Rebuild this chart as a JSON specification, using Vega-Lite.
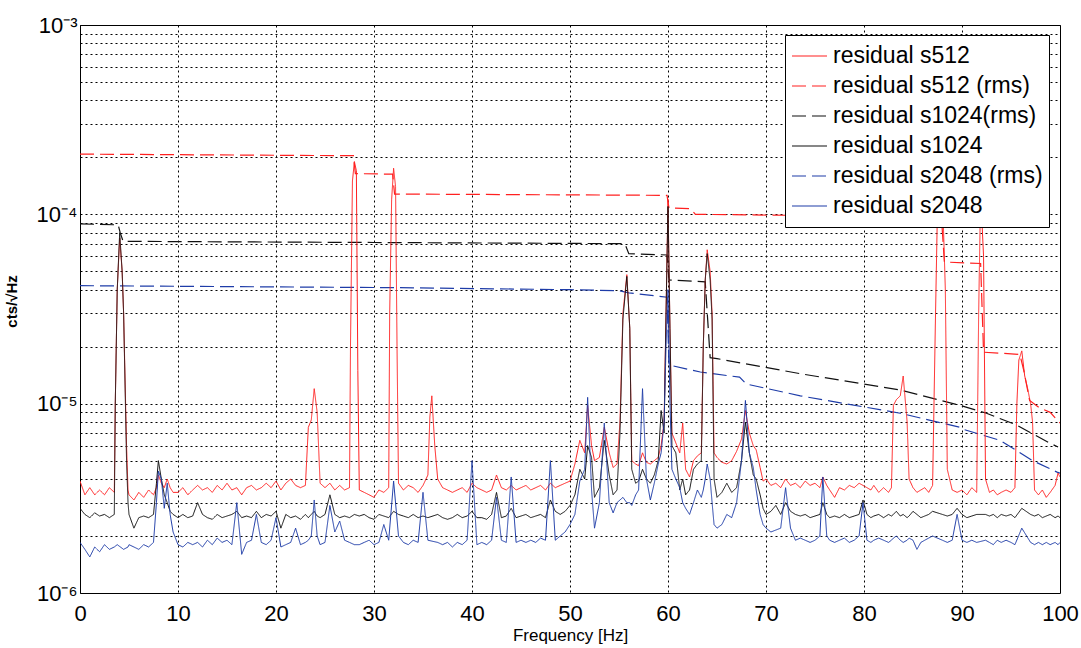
{
"$schema":"https://vega.github.io/schema/vega-lite/v6.json",
"autosize":{"type":"none"},
"width":980,"height":568,
"padding":{"left":80,"top":25,"right":21,"bottom":55},
"background":"white",
"config":{"view":{"stroke":"#000","strokeWidth":1},"font":"Liberation Sans"},
"datasets":{
"spec":[
{"f":0,"residual s512":3.9e-6,"residual s1024":2.8e-6,"residual s2048":1.85e-6},
{"f":0.5,"residual s512":3.3e-6,"residual s1024":2.6e-6,"residual s2048":1.7e-6},
{"f":1,"residual s512":3.6e-6,"residual s1024":2.5e-6,"residual s2048":1.55e-6},
{"f":1.5,"residual s512":3.3e-6,"residual s1024":2.65e-6,"residual s2048":1.75e-6},
{"f":2,"residual s512":3.5e-6,"residual s1024":2.55e-6,"residual s2048":1.65e-6},
{"f":2.5,"residual s512":3.3e-6,"residual s1024":2.6e-6,"residual s2048":1.8e-6},
{"f":3,"residual s512":3.6e-6,"residual s1024":2.5e-6,"residual s2048":1.7e-6},
{"f":3.5,"residual s512":3.4e-6,"residual s1024":2.6e-6,"residual s2048":1.75e-6},
{"f":3.6,"residual s512":1.0e-5,"residual s1024":1.0e-5},
{"f":3.8,"residual s512":4.0e-5,"residual s1024":4.0e-5,"residual s2048":1.8e-6},
{"f":4.05,"residual s512":7.5e-5,"residual s1024":8.0e-5},
{"f":4.3,"residual s512":5.0e-5,"residual s1024":5.0e-5},
{"f":4.45,"residual s512":3.0e-5,"residual s1024":3.0e-5,"residual s2048":1.7e-6},
{"f":4.75,"residual s512":6.0e-6,"residual s1024":5.0e-6},
{"f":4.9,"residual s512":3.5e-6,"residual s1024":3.0e-6,"residual s2048":1.75e-6},
{"f":5,"residual s512":3.3e-6,"residual s1024":2.6e-6,"residual s2048":1.8e-6},
{"f":5.5,"residual s512":3.1e-6,"residual s1024":2.2e-6,"residual s2048":1.75e-6},
{"f":6,"residual s512":3.4e-6,"residual s1024":2.5e-6,"residual s2048":1.7e-6},
{"f":6.5,"residual s512":3.2e-6,"residual s1024":2.55e-6,"residual s2048":1.8e-6},
{"f":7,"residual s512":3.5e-6,"residual s1024":2.5e-6,"residual s2048":1.75e-6},
{"f":7.5,"residual s512":3.3e-6,"residual s1024":2.6e-6,"residual s2048":1.85e-6},
{"f":7.8,"residual s512":3.6e-6,"residual s1024":3.8e-6,"residual s2048":3.0e-6},
{"f":8,"residual s512":4.2e-6,"residual s1024":5.0e-6,"residual s2048":4.4e-6},
{"f":8.3,"residual s512":3.8e-6,"residual s1024":4.0e-6,"residual s2048":4.0e-6},
{"f":8.6,"residual s512":3.6e-6,"residual s1024":3.3e-6,"residual s2048":2.8e-6},
{"f":8.9,"residual s512":4.0e-6,"residual s1024":3.0e-6,"residual s2048":3.8e-6},
{"f":9.2,"residual s512":3.6e-6,"residual s1024":2.7e-6,"residual s2048":2.6e-6},
{"f":9.5,"residual s512":3.4e-6,"residual s1024":2.6e-6,"residual s2048":2.1e-6},
{"f":10,"residual s512":3.4e-6,"residual s1024":2.5e-6,"residual s2048":1.8e-6},
{"f":10.5,"residual s512":3.6e-6,"residual s1024":2.6e-6,"residual s2048":1.75e-6},
{"f":11,"residual s512":3.3e-6,"residual s1024":2.5e-6,"residual s2048":1.85e-6},
{"f":11.5,"residual s512":3.5e-6,"residual s1024":2.55e-6,"residual s2048":1.8e-6},
{"f":12,"residual s512":3.7e-6,"residual s1024":3.0e-6,"residual s2048":1.85e-6},
{"f":12.5,"residual s512":3.5e-6,"residual s1024":2.6e-6,"residual s2048":1.75e-6},
{"f":13,"residual s512":3.6e-6,"residual s1024":2.5e-6,"residual s2048":1.9e-6},
{"f":13.5,"residual s512":3.4e-6,"residual s1024":2.45e-6,"residual s2048":1.8e-6},
{"f":14,"residual s512":3.7e-6,"residual s1024":2.6e-6,"residual s2048":1.95e-6},
{"f":14.5,"residual s512":3.5e-6,"residual s1024":2.5e-6,"residual s2048":1.85e-6},
{"f":15,"residual s512":3.8e-6,"residual s1024":2.55e-6,"residual s2048":1.9e-6},
{"f":15.5,"residual s512":3.5e-6,"residual s1024":2.6e-6,"residual s2048":1.8e-6},
{"f":16,"residual s512":3.6e-6,"residual s1024":2.7e-6,"residual s2048":3.0e-6},
{"f":16.5,"residual s512":3.3e-6,"residual s1024":2.5e-6,"residual s2048":1.6e-6},
{"f":17,"residual s512":3.6e-6,"residual s1024":2.55e-6,"residual s2048":1.85e-6},
{"f":17.5,"residual s512":3.7e-6,"residual s1024":2.5e-6,"residual s2048":1.9e-6},
{"f":18,"residual s512":3.5e-6,"residual s1024":2.7e-6,"residual s2048":2.6e-6},
{"f":18.5,"residual s512":3.6e-6,"residual s1024":2.5e-6,"residual s2048":1.85e-6},
{"f":19,"residual s512":3.8e-6,"residual s1024":2.6e-6,"residual s2048":1.8e-6},
{"f":19.5,"residual s512":3.6e-6,"residual s1024":2.55e-6,"residual s2048":1.9e-6},
{"f":20,"residual s512":3.9e-6,"residual s1024":2.7e-6,"residual s2048":2.5e-6},
{"f":20.5,"residual s512":3.5e-6,"residual s1024":2.2e-6,"residual s2048":1.75e-6},
{"f":21,"residual s512":3.8e-6,"residual s1024":2.6e-6,"residual s2048":1.8e-6},
{"f":21.5,"residual s512":4.0e-6,"residual s1024":2.5e-6,"residual s2048":1.85e-6},
{"f":22,"residual s512":3.7e-6,"residual s1024":2.55e-6,"residual s2048":2.2e-6},
{"f":22.5,"residual s512":3.6e-6,"residual s1024":2.45e-6,"residual s2048":1.8e-6},
{"f":23,"residual s512":3.7e-6,"residual s1024":2.6e-6,"residual s2048":1.85e-6},
{"f":23.3,"residual s512":7.5e-6,"residual s1024":2.5e-6,"residual s2048":1.9e-6},
{"f":23.6,"residual s512":8.2e-6,"residual s1024":2.6e-6,"residual s2048":2.0e-6},
{"f":23.9,"residual s512":1.2e-5,"residual s1024":2.7e-6,"residual s2048":3.1e-6},
{"f":24.2,"residual s512":9.0e-6,"residual s1024":2.55e-6,"residual s2048":2.0e-6},
{"f":24.5,"residual s512":3.8e-6,"residual s1024":2.5e-6,"residual s2048":1.8e-6},
{"f":25,"residual s512":3.6e-6,"residual s1024":2.6e-6,"residual s2048":1.85e-6},
{"f":25.5,"residual s512":3.8e-6,"residual s1024":3.3e-6,"residual s2048":2.9e-6},
{"f":26,"residual s512":3.5e-6,"residual s1024":2.6e-6,"residual s2048":2.1e-6},
{"f":26.5,"residual s512":3.7e-6,"residual s1024":2.5e-6,"residual s2048":2.4e-6},
{"f":27,"residual s512":3.5e-6,"residual s1024":2.55e-6,"residual s2048":1.9e-6},
{"f":27.5,"residual s512":3.6e-6,"residual s1024":2.5e-6,"residual s2048":1.85e-6},
{"f":27.6,"residual s512":2.0e-5},
{"f":27.8,"residual s512":1.5e-4},
{"f":28,"residual s512":1.9e-4,"residual s1024":2.6e-6,"residual s2048":1.8e-6},
{"f":28.2,"residual s512":1.7e-4},
{"f":28.35,"residual s512":1.5e-5},
{"f":28.5,"residual s512":3.5e-6,"residual s1024":2.55e-6,"residual s2048":1.8e-6},
{"f":29,"residual s512":3.4e-6,"residual s1024":2.6e-6,"residual s2048":1.85e-6},
{"f":29.5,"residual s512":3.3e-6,"residual s1024":2.5e-6,"residual s2048":1.9e-6},
{"f":30,"residual s512":3.2e-6,"residual s1024":2.45e-6,"residual s2048":1.8e-6},
{"f":30.5,"residual s512":3.5e-6,"residual s1024":2.6e-6,"residual s2048":1.85e-6},
{"f":31,"residual s512":3.4e-6,"residual s1024":2.55e-6,"residual s2048":2.3e-6},
{"f":31.5,"residual s512":3.6e-6,"residual s1024":2.5e-6,"residual s2048":1.9e-6},
{"f":31.6,"residual s512":3.0e-5},
{"f":31.8,"residual s512":1.2e-4},
{"f":32,"residual s512":1.75e-4,"residual s1024":2.7e-6,"residual s2048":3.9e-6},
{"f":32.2,"residual s512":1.4e-4},
{"f":32.35,"residual s512":2.0e-5},
{"f":32.5,"residual s512":3.8e-6,"residual s1024":2.6e-6,"residual s2048":2.0e-6},
{"f":33,"residual s512":3.5e-6,"residual s1024":2.55e-6,"residual s2048":1.85e-6},
{"f":33.5,"residual s512":3.7e-6,"residual s1024":2.5e-6,"residual s2048":1.8e-6},
{"f":34,"residual s512":3.6e-6,"residual s1024":2.6e-6,"residual s2048":1.9e-6},
{"f":34.5,"residual s512":3.4e-6,"residual s1024":2.5e-6,"residual s2048":1.85e-6},
{"f":35,"residual s512":3.7e-6,"residual s1024":2.55e-6,"residual s2048":3.4e-6},
{"f":35.5,"residual s512":4.2e-6,"residual s1024":2.5e-6,"residual s2048":1.9e-6},
{"f":35.7,"residual s512":8.5e-6},
{"f":35.9,"residual s512":1.1e-5},
{"f":36.2,"residual s512":6.0e-6},
{"f":36.5,"residual s512":4.0e-6,"residual s1024":2.6e-6,"residual s2048":1.85e-6},
{"f":37,"residual s512":3.6e-6,"residual s1024":2.5e-6,"residual s2048":1.8e-6},
{"f":37.5,"residual s512":3.5e-6,"residual s1024":2.45e-6,"residual s2048":1.85e-6},
{"f":38,"residual s512":3.4e-6,"residual s1024":2.5e-6,"residual s2048":1.75e-6},
{"f":38.5,"residual s512":3.5e-6,"residual s1024":2.6e-6,"residual s2048":1.85e-6},
{"f":39,"residual s512":3.6e-6,"residual s1024":2.5e-6,"residual s2048":1.8e-6},
{"f":39.5,"residual s512":3.4e-6,"residual s1024":2.55e-6,"residual s2048":1.9e-6},
{"f":40,"residual s512":3.8e-6,"residual s1024":2.7e-6,"residual s2048":5.0e-6},
{"f":40.5,"residual s512":3.6e-6,"residual s1024":2.5e-6,"residual s2048":1.8e-6},
{"f":41,"residual s512":3.5e-6,"residual s1024":2.5e-6,"residual s2048":1.85e-6},
{"f":41.5,"residual s512":3.4e-6,"residual s1024":2.45e-6,"residual s2048":1.8e-6},
{"f":42,"residual s512":3.5e-6,"residual s1024":2.6e-6,"residual s2048":1.9e-6},
{"f":42.5,"residual s512":4.2e-6,"residual s1024":3.4e-6,"residual s2048":3.2e-6},
{"f":43,"residual s512":3.6e-6,"residual s1024":2.5e-6,"residual s2048":1.9e-6},
{"f":43.5,"residual s512":3.5e-6,"residual s1024":2.55e-6,"residual s2048":1.85e-6},
{"f":44,"residual s512":3.7e-6,"residual s1024":2.8e-6,"residual s2048":4.1e-6},
{"f":44.5,"residual s512":3.5e-6,"residual s1024":2.5e-6,"residual s2048":1.85e-6},
{"f":45,"residual s512":3.6e-6,"residual s1024":2.55e-6,"residual s2048":1.9e-6},
{"f":45.5,"residual s512":3.7e-6,"residual s1024":2.6e-6,"residual s2048":1.85e-6},
{"f":46,"residual s512":3.5e-6,"residual s1024":2.5e-6,"residual s2048":1.9e-6},
{"f":46.5,"residual s512":3.6e-6,"residual s1024":2.55e-6,"residual s2048":1.85e-6},
{"f":47,"residual s512":3.7e-6,"residual s1024":2.6e-6,"residual s2048":1.95e-6},
{"f":47.5,"residual s512":3.5e-6,"residual s1024":2.5e-6,"residual s2048":1.9e-6},
{"f":48,"residual s512":3.8e-6,"residual s1024":3.1e-6,"residual s2048":5.0e-6},
{"f":48.5,"residual s512":3.6e-6,"residual s1024":2.7e-6,"residual s2048":1.9e-6},
{"f":49,"residual s512":3.7e-6,"residual s1024":2.6e-6,"residual s2048":2.0e-6},
{"f":49.5,"residual s512":3.8e-6,"residual s1024":2.7e-6,"residual s2048":2.1e-6},
{"f":50,"residual s512":3.9e-6,"residual s1024":2.9e-6,"residual s2048":2.3e-6},
{"f":50.5,"residual s512":4.8e-6,"residual s1024":3.3e-6,"residual s2048":2.6e-6},
{"f":51,"residual s512":6.4e-6,"residual s1024":4.5e-6,"residual s2048":3.9e-6},
{"f":51.5,"residual s512":5.5e-6,"residual s1024":4.0e-6,"residual s2048":4.5e-6},
{"f":51.8,"residual s512":9.8e-6,"residual s1024":6.0e-6,"residual s2048":1.08e-5},
{"f":52.2,"residual s512":6.0e-6,"residual s1024":5.2e-6,"residual s2048":3.5e-6},
{"f":52.5,"residual s512":5.0e-6,"residual s1024":3.2e-6,"residual s2048":2.2e-6},
{"f":53,"residual s512":5.2e-6,"residual s1024":3.6e-6,"residual s2048":3.0e-6},
{"f":53.5,"residual s512":7.5e-6,"residual s1024":6.4e-6,"residual s2048":7.9e-6},
{"f":54,"residual s512":5.5e-6,"residual s1024":4.2e-6,"residual s2048":3.0e-6},
{"f":54.4,"residual s512":4.6e-6,"residual s1024":3.3e-6,"residual s2048":2.65e-6},
{"f":54.8,"residual s512":4.8e-6,"residual s1024":3.5e-6,"residual s2048":3.0e-6},
{"f":55.1,"residual s512":8.0e-6,"residual s1024":7.0e-6,"residual s2048":3.1e-6},
{"f":55.4,"residual s512":3.0e-5,"residual s1024":2.8e-5,"residual s2048":3.2e-6},
{"f":55.8,"residual s512":4.8e-5,"residual s1024":4.7e-5,"residual s2048":3.0e-6},
{"f":56.1,"residual s512":2.5e-5,"residual s1024":2.5e-5,"residual s2048":3.0e-6},
{"f":56.3,"residual s512":5.0e-6,"residual s1024":4.5e-6,"residual s2048":2.9e-6},
{"f":56.7,"residual s512":4.8e-6,"residual s1024":3.8e-6,"residual s2048":3.3e-6},
{"f":57,"residual s512":4.7e-6,"residual s1024":3.9e-6,"residual s2048":3.5e-6},
{"f":57.4,"residual s512":5.5e-6,"residual s1024":4.5e-6,"residual s2048":1.2e-5},
{"f":57.8,"residual s512":4.9e-6,"residual s1024":4.0e-6,"residual s2048":4.0e-6},
{"f":58.2,"residual s512":4.8e-6,"residual s1024":3.8e-6,"residual s2048":3.1e-6},
{"f":58.6,"residual s512":5.0e-6,"residual s1024":4.2e-6,"residual s2048":3.8e-6},
{"f":59,"residual s512":5.2e-6,"residual s1024":5.0e-6,"residual s2048":4.8e-6},
{"f":59.3,"residual s512":6.0e-6,"residual s1024":9.2e-6,"residual s2048":5.5e-6},
{"f":59.6,"residual s512":8.0e-6,"residual s1024":7.0e-6,"residual s2048":8.0e-6},
{"f":59.8,"residual s512":3.0e-5,"residual s1024":3.0e-5,"residual s2048":2.0e-5},
{"f":60,"residual s512":1.2e-4,"residual s1024":1.1e-4,"residual s2048":4.0e-5},
{"f":60.2,"residual s512":2.5e-5,"residual s1024":2.5e-5,"residual s2048":1.0e-5},
{"f":60.4,"residual s512":7.0e-6,"residual s1024":6.0e-6,"residual s2048":4.5e-6},
{"f":60.8,"residual s512":6.2e-6,"residual s1024":5.5e-6,"residual s2048":4.0e-6},
{"f":61.2,"residual s512":5.5e-6,"residual s1024":3.5e-6,"residual s2048":3.6e-6},
{"f":61.5,"residual s512":7.9e-6,"residual s1024":4.0e-6,"residual s2048":3.0e-6},
{"f":61.8,"residual s512":4.5e-6,"residual s1024":3.3e-6,"residual s2048":2.8e-6},
{"f":62.2,"residual s512":4.1e-6,"residual s1024":3.5e-6,"residual s2048":2.6e-6},
{"f":62.6,"residual s512":5.0e-6,"residual s1024":4.5e-6,"residual s2048":3.0e-6},
{"f":63,"residual s512":5.3e-6,"residual s1024":4.8e-6,"residual s2048":3.5e-6},
{"f":63.4,"residual s512":5.5e-6,"residual s1024":5.0e-6,"residual s2048":3.2e-6},
{"f":63.6,"residual s512":2.0e-5,"residual s1024":2.0e-5,"residual s2048":3.5e-6},
{"f":63.8,"residual s512":4.5e-5,"residual s1024":4.5e-5,"residual s2048":4.0e-6},
{"f":64,"residual s512":6.5e-5,"residual s1024":6.2e-5,"residual s2048":4.8e-6},
{"f":64.3,"residual s512":5.0e-5,"residual s1024":4.5e-5,"residual s2048":4.0e-6},
{"f":64.5,"residual s512":3.0e-5,"residual s1024":2.8e-5,"residual s2048":3.0e-6},
{"f":64.7,"residual s512":5.5e-6,"residual s1024":4.0e-6,"residual s2048":2.3e-6},
{"f":65,"residual s512":5.2e-6,"residual s1024":3.2e-6,"residual s2048":2.2e-6},
{"f":65.5,"residual s512":4.9e-6,"residual s1024":3.4e-6,"residual s2048":2.3e-6},
{"f":66,"residual s512":4.8e-6,"residual s1024":3.8e-6,"residual s2048":2.6e-6},
{"f":66.5,"residual s512":5.0e-6,"residual s1024":3.4e-6,"residual s2048":2.5e-6},
{"f":67,"residual s512":5.6e-6,"residual s1024":3.6e-6,"residual s2048":3.0e-6},
{"f":67.5,"residual s512":6.5e-6,"residual s1024":5.0e-6,"residual s2048":5.0e-6},
{"f":67.9,"residual s512":9.2e-6,"residual s1024":8.0e-6,"residual s2048":1.04e-5},
{"f":68.3,"residual s512":7.0e-6,"residual s1024":5.5e-6,"residual s2048":5.5e-6},
{"f":68.7,"residual s512":6.0e-6,"residual s1024":4.2e-6,"residual s2048":4.6e-6},
{"f":69,"residual s512":5.7e-6,"residual s1024":4.0e-6,"residual s2048":3.5e-6},
{"f":69.4,"residual s512":4.6e-6,"residual s1024":3.3e-6,"residual s2048":2.6e-6},
{"f":69.7,"residual s512":3.9e-6,"residual s1024":2.8e-6,"residual s2048":2.3e-6},
{"f":70,"residual s512":4.0e-6,"residual s1024":2.6e-6,"residual s2048":2.2e-6},
{"f":70.5,"residual s512":3.7e-6,"residual s1024":2.7e-6,"residual s2048":2.1e-6},
{"f":71,"residual s512":3.8e-6,"residual s1024":2.9e-6,"residual s2048":2.15e-6},
{"f":71.5,"residual s512":3.6e-6,"residual s1024":2.6e-6,"residual s2048":2.2e-6},
{"f":72,"residual s512":4.0e-6,"residual s1024":3.0e-6,"residual s2048":3.6e-6},
{"f":72.5,"residual s512":3.7e-6,"residual s1024":2.7e-6,"residual s2048":2.2e-6},
{"f":73,"residual s512":3.8e-6,"residual s1024":2.6e-6,"residual s2048":1.9e-6},
{"f":73.5,"residual s512":3.6e-6,"residual s1024":2.55e-6,"residual s2048":1.95e-6},
{"f":74,"residual s512":3.9e-6,"residual s1024":2.6e-6,"residual s2048":1.9e-6},
{"f":74.5,"residual s512":3.7e-6,"residual s1024":2.5e-6,"residual s2048":1.85e-6},
{"f":75,"residual s512":3.8e-6,"residual s1024":2.55e-6,"residual s2048":1.9e-6},
{"f":75.5,"residual s512":3.6e-6,"residual s1024":2.6e-6,"residual s2048":2.0e-6},
{"f":75.8,"residual s512":4.1e-6,"residual s1024":3.0e-6,"residual s2048":4.1e-6},
{"f":76.2,"residual s512":3.7e-6,"residual s1024":2.6e-6,"residual s2048":2.0e-6},
{"f":76.5,"residual s512":3.5e-6,"residual s1024":2.5e-6,"residual s2048":1.9e-6},
{"f":77,"residual s512":3.2e-6,"residual s1024":2.55e-6,"residual s2048":1.85e-6},
{"f":77.5,"residual s512":3.6e-6,"residual s1024":2.5e-6,"residual s2048":1.9e-6},
{"f":78,"residual s512":3.5e-6,"residual s1024":2.6e-6,"residual s2048":1.95e-6},
{"f":78.5,"residual s512":3.7e-6,"residual s1024":2.5e-6,"residual s2048":1.85e-6},
{"f":79,"residual s512":3.6e-6,"residual s1024":2.55e-6,"residual s2048":1.9e-6},
{"f":79.5,"residual s512":3.8e-6,"residual s1024":2.6e-6,"residual s2048":2.0e-6},
{"f":79.9,"residual s512":3.7e-6,"residual s1024":3.1e-6,"residual s2048":3.0e-6},
{"f":80.3,"residual s512":3.6e-6,"residual s1024":2.6e-6,"residual s2048":1.9e-6},
{"f":80.7,"residual s512":3.5e-6,"residual s1024":2.5e-6,"residual s2048":1.85e-6},
{"f":81,"residual s512":3.7e-6,"residual s1024":2.55e-6,"residual s2048":1.9e-6},
{"f":81.5,"residual s512":3.4e-6,"residual s1024":2.6e-6,"residual s2048":1.95e-6},
{"f":82,"residual s512":3.6e-6,"residual s1024":2.5e-6,"residual s2048":1.9e-6},
{"f":82.5,"residual s512":3.4e-6,"residual s1024":2.6e-6,"residual s2048":1.85e-6},
{"f":82.8,"residual s512":3.6e-6,"residual s1024":2.55e-6,"residual s2048":1.9e-6},
{"f":83,"residual s512":9.8e-6,"residual s1024":2.6e-6,"residual s2048":1.95e-6},
{"f":83.3,"residual s512":1.05e-5,"residual s1024":2.7e-6,"residual s2048":2.0e-6},
{"f":83.7,"residual s512":1.1e-5,"residual s1024":2.55e-6,"residual s2048":1.9e-6},
{"f":84,"residual s512":1.4e-5,"residual s1024":2.6e-6,"residual s2048":1.85e-6},
{"f":84.4,"residual s512":8.0e-6,"residual s1024":2.5e-6,"residual s2048":1.9e-6},
{"f":84.6,"residual s512":4.0e-6,"residual s1024":2.55e-6,"residual s2048":1.95e-6},
{"f":85,"residual s512":3.6e-6,"residual s1024":2.7e-6,"residual s2048":1.9e-6},
{"f":85.4,"residual s512":3.4e-6,"residual s1024":2.6e-6,"residual s2048":1.7e-6},
{"f":85.8,"residual s512":3.5e-6,"residual s1024":2.5e-6,"residual s2048":1.85e-6},
{"f":86.2,"residual s512":3.6e-6,"residual s1024":2.55e-6,"residual s2048":1.9e-6},
{"f":86.6,"residual s512":3.4e-6,"residual s1024":2.6e-6,"residual s2048":1.95e-6},
{"f":87,"residual s512":3.7e-6,"residual s1024":2.7e-6,"residual s2048":2.0e-6},
{"f":87.3,"residual s512":3.0e-5},
{"f":87.5,"residual s512":1.1e-4},
{"f":88,"residual s512":1.3e-4,"residual s1024":2.6e-6,"residual s2048":1.9e-6},
{"f":88.3,"residual s512":4.0e-5},
{"f":88.5,"residual s512":4.5e-6,"residual s1024":2.55e-6,"residual s2048":1.85e-6},
{"f":89,"residual s512":3.5e-6,"residual s1024":2.6e-6,"residual s2048":1.9e-6},
{"f":89.5,"residual s512":3.4e-6,"residual s1024":2.8e-6,"residual s2048":2.6e-6},
{"f":90,"residual s512":3.5e-6,"residual s1024":2.6e-6,"residual s2048":1.9e-6},
{"f":90.5,"residual s512":3.3e-6,"residual s1024":2.5e-6,"residual s2048":1.85e-6},
{"f":91,"residual s512":3.6e-6,"residual s1024":2.55e-6,"residual s2048":1.9e-6},
{"f":91.5,"residual s512":3.4e-6,"residual s1024":2.6e-6,"residual s2048":1.85e-6},
{"f":91.7,"residual s512":3.0e-5},
{"f":91.9,"residual s512":1.3e-4},
{"f":92.2,"residual s512":6.0e-5},
{"f":92.4,"residual s512":4.0e-6,"residual s1024":2.6e-6,"residual s2048":1.9e-6},
{"f":92.8,"residual s512":3.4e-6,"residual s1024":2.55e-6,"residual s2048":1.85e-6},
{"f":93.2,"residual s512":3.5e-6,"residual s1024":2.6e-6,"residual s2048":1.8e-6},
{"f":93.6,"residual s512":3.3e-6,"residual s1024":2.5e-6,"residual s2048":1.9e-6},
{"f":94,"residual s512":3.4e-6,"residual s1024":2.6e-6,"residual s2048":1.85e-6},
{"f":94.5,"residual s512":3.5e-6,"residual s1024":2.55e-6,"residual s2048":1.9e-6},
{"f":95,"residual s512":3.4e-6,"residual s1024":2.6e-6,"residual s2048":1.85e-6},
{"f":95.4,"residual s512":3.6e-6,"residual s1024":2.5e-6,"residual s2048":1.8e-6},
{"f":95.6,"residual s512":1.0e-5},
{"f":95.8,"residual s512":1.7e-5},
{"f":96.1,"residual s512":1.9e-5,"residual s1024":2.8e-6,"residual s2048":2.2e-6},
{"f":96.4,"residual s512":1.4e-5},
{"f":96.7,"residual s512":1.2e-5},
{"f":97,"residual s512":1.0e-5,"residual s1024":2.6e-6,"residual s2048":1.85e-6},
{"f":97.2,"residual s512":8.0e-6},
{"f":97.4,"residual s512":3.5e-6,"residual s1024":2.55e-6,"residual s2048":1.8e-6},
{"f":97.8,"residual s512":3.3e-6,"residual s1024":2.6e-6,"residual s2048":1.85e-6},
{"f":98.2,"residual s512":3.5e-6,"residual s1024":2.5e-6,"residual s2048":1.8e-6},
{"f":98.6,"residual s512":3.2e-6,"residual s1024":2.55e-6,"residual s2048":1.85e-6},
{"f":99,"residual s512":3.4e-6,"residual s1024":2.6e-6,"residual s2048":1.8e-6},
{"f":99.5,"residual s512":3.7e-6,"residual s1024":2.5e-6,"residual s2048":1.85e-6},
{"f":99.8,"residual s512":4.3e-6,"residual s1024":2.55e-6,"residual s2048":1.8e-6},
{"f":100,"residual s512":4.1e-6,"residual s1024":2.5e-6,"residual s2048":1.85e-6}
],
"rms":[
{"f":0,"v":2.08e-4,"s":"residual s512 (rms)"},
{"f":27.9,"v":2.04e-4,"s":"residual s512 (rms)"},
{"f":28.1,"v":1.64e-4,"s":"residual s512 (rms)"},
{"f":31.9,"v":1.63e-4,"s":"residual s512 (rms)"},
{"f":32.1,"v":1.28e-4,"s":"residual s512 (rms)"},
{"f":59.9,"v":1.26e-4,"s":"residual s512 (rms)"},
{"f":60.1,"v":1.08e-4,"s":"residual s512 (rms)"},
{"f":62.3,"v":1.07e-4,"s":"residual s512 (rms)"},
{"f":62.8,"v":1.0e-4,"s":"residual s512 (rms)"},
{"f":87.9,"v":9.7e-5,"s":"residual s512 (rms)"},
{"f":88.2,"v":5.6e-5,"s":"residual s512 (rms)"},
{"f":91.9,"v":5.5e-5,"s":"residual s512 (rms)"},
{"f":92.2,"v":1.87e-5,"s":"residual s512 (rms)"},
{"f":95.9,"v":1.82e-5,"s":"residual s512 (rms)"},
{"f":96.3,"v":1.5e-5,"s":"residual s512 (rms)"},
{"f":96.9,"v":1.04e-5,"s":"residual s512 (rms)"},
{"f":97.9,"v":9.5e-6,"s":"residual s512 (rms)"},
{"f":99,"v":9.0e-6,"s":"residual s512 (rms)"},
{"f":100,"v":7.9e-6,"s":"residual s512 (rms)"},
{"f":0,"v":8.9e-5,"s":"residual s1024(rms)"},
{"f":3.9,"v":8.8e-5,"s":"residual s1024(rms)"},
{"f":4.1,"v":8.0e-5,"s":"residual s1024(rms)"},
{"f":4.4,"v":7.2e-5,"s":"residual s1024(rms)"},
{"f":30,"v":7.1e-5,"s":"residual s1024(rms)"},
{"f":55.6,"v":7.0e-5,"s":"residual s1024(rms)"},
{"f":56,"v":6.2e-5,"s":"residual s1024(rms)"},
{"f":59.9,"v":6.1e-5,"s":"residual s1024(rms)"},
{"f":60.1,"v":4.5e-5,"s":"residual s1024(rms)"},
{"f":63.8,"v":4.4e-5,"s":"residual s1024(rms)"},
{"f":64.3,"v":1.75e-5,"s":"residual s1024(rms)"},
{"f":65,"v":1.73e-5,"s":"residual s1024(rms)"},
{"f":73.5,"v":1.44e-5,"s":"residual s1024(rms)"},
{"f":83.7,"v":1.18e-5,"s":"residual s1024(rms)"},
{"f":89.8,"v":9.8e-6,"s":"residual s1024(rms)"},
{"f":92.5,"v":8.9e-6,"s":"residual s1024(rms)"},
{"f":95.6,"v":7.7e-6,"s":"residual s1024(rms)"},
{"f":98.8,"v":6.25e-6,"s":"residual s1024(rms)"},
{"f":99.8,"v":5.9e-6,"s":"residual s1024(rms)"},
{"f":0,"v":4.2e-5,"s":"residual s2048 (rms)"},
{"f":32,"v":4.1e-5,"s":"residual s2048 (rms)"},
{"f":50,"v":4.0e-5,"s":"residual s2048 (rms)"},
{"f":55,"v":3.95e-5,"s":"residual s2048 (rms)"},
{"f":56,"v":3.85e-5,"s":"residual s2048 (rms)"},
{"f":59.9,"v":3.65e-5,"s":"residual s2048 (rms)"},
{"f":60.1,"v":1.6e-5,"s":"residual s2048 (rms)"},
{"f":63.3,"v":1.47e-5,"s":"residual s2048 (rms)"},
{"f":67.3,"v":1.38e-5,"s":"residual s2048 (rms)"},
{"f":68,"v":1.27e-5,"s":"residual s2048 (rms)"},
{"f":73.5,"v":1.1e-5,"s":"residual s2048 (rms)"},
{"f":83.7,"v":8.9e-6,"s":"residual s2048 (rms)"},
{"f":89.8,"v":7.5e-6,"s":"residual s2048 (rms)"},
{"f":90.2,"v":7.3e-6,"s":"residual s2048 (rms)"},
{"f":93.9,"v":6.4e-6,"s":"residual s2048 (rms)"},
{"f":97.2,"v":5.0e-6,"s":"residual s2048 (rms)"},
{"f":99.7,"v":4.35e-6,"s":"residual s2048 (rms)"},
{"f":100,"v":4.3e-6,"s":"residual s2048 (rms)"}
]
},
"encoding":{
"x":{"field":"f","type":"quantitative","scale":{"domain":[0,100],"nice":false},
 "axis":{"title":"Frequency [Hz]","values":[0,10,20,30,40,50,60,70,80,90,100],"domain":false,"ticks":false,
 "grid":true,"gridColor":"#000","gridDash":[2,3],"gridWidth":1,"gridOpacity":1,
 "labelFont":"Liberation Sans","labelFontSize":22,"labelColor":"#000","labelPadding":10,"labelFlush":false,
 "titleFont":"Liberation Sans","titleFontSize":17,"titleFontWeight":"normal","titleColor":"#000","titlePadding":3}},
"y":{"field":"v","type":"quantitative","scale":{"type":"log","domain":[1e-6,1e-3],"nice":false},
 "axis":{"title":"cts/√Hz","values":[1e-6,2e-6,3e-6,4e-6,5e-6,6e-6,7e-6,8e-6,9e-6,1e-5,2e-5,3e-5,4e-5,5e-5,6e-5,7e-5,8e-5,9e-5,1e-4,2e-4,3e-4,4e-4,5e-4,6e-4,7e-4,8e-4,9e-4,1e-3],
 "labelExpr":"datum.value == 1e-6 ? '10⁻⁶' : datum.value == 1e-5 ? '10⁻⁵' : datum.value == 1e-4 ? '10⁻⁴' : datum.value == 1e-3 ? '10⁻³' : ''",
 "domain":false,"ticks":false,"grid":true,"gridColor":"#000","gridDash":[2,3],"gridWidth":1,"gridOpacity":1,
 "labelFont":"Liberation Sans","labelFontSize":22,"labelColor":"#000","labelPadding":3,"labelOverlap":false,"labelFlush":false,
 "titleFont":"Liberation Sans","titleFontSize":15,"titleFontWeight":"bold","titleColor":"#000","titleX":-61,"titleY":276}},
"color":{"field":"s","type":"nominal",
 "scale":{"domain":["residual s512","residual s512 (rms)","residual s1024(rms)","residual s1024","residual s2048 (rms)","residual s2048"],
 "range":["#ff2020","#ff2020","#111111","#111111","#1e3ca8","#1e3ca8"]},
 "legend":{"orient":"none","legendX":705,"legendY":10,"title":null,"symbolType":"stroke","symbolSize":1225,"symbolStrokeWidth":1.2,
 "labelFont":"Liberation Sans","labelFontSize":23,"labelColor":"#000","labelLimit":0,"labelOffset":5,
 "clipHeight":30,"rowPadding":0,"padding":6,"fillColor":"white","strokeColor":"#000","cornerRadius":0}},
"strokeDash":{"field":"s","type":"nominal",
 "scale":{"domain":["residual s512","residual s512 (rms)","residual s1024(rms)","residual s1024","residual s2048 (rms)","residual s2048"],
 "range":[[1,0],[14,6],[14,6],[1,0],[14,6],[1,0]]},"legend":null}
},
"layer":[
{"data":{"name":"rms"},"mark":{"type":"line","strokeWidth":1.2,"clip":true}},
{"data":{"name":"spec"},"transform":[{"fold":["residual s512","residual s1024","residual s2048"],"as":["s","v"]},{"filter":"isValid(datum.v)"}],
 "mark":{"type":"line","strokeWidth":1,"clip":true}}
]
}
